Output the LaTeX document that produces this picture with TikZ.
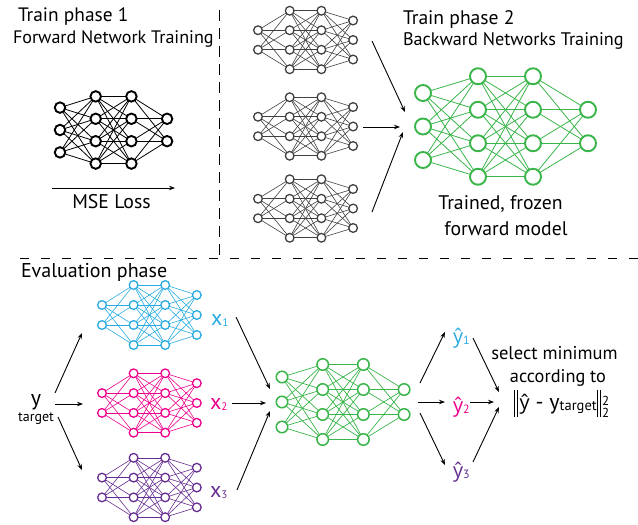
\documentclass[tikz,border=0pt]{standalone}
\usepackage{fontspec}
\setmainfont{PT Sans}
\newfontfamily\yfont{Open Sans}
\usetikzlibrary{arrows.meta}

\definecolor{ncyan}{HTML}{29ABE2}
\definecolor{nmag}{HTML}{EC008C}
\definecolor{npur}{HTML}{662D91}
\definecolor{ngreen}{HTML}{39B54A}
\definecolor{ngray}{HTML}{404040}

\newcommand\fsz[1]{\fontsize{#1}{#1}\selectfont}
\newcommand\yh{{\yfont\fsz{20}ŷ}}
\newcommand\nbar{\rule[-8pt]{0.7pt}{27pt}\hspace{1.8pt}\rule[-8pt]{0.7pt}{27pt}}

\tikzset{
  neu/.style={circle, draw, fill=white, inner sep=0pt, outer sep=0pt},
  fwdnode/.style={neu, draw=black, line width=1.9pt, minimum size=10.5pt},
  fwdedge/.style={draw=black, line width=0.8pt},
  bwdnode/.style={neu, draw=ngray, line width=1.3pt, minimum size=8.7pt},
  bwdedge/.style={draw=ngray, line width=0.6pt},
  gtnode/.style={neu, draw=ngreen, line width=1.9pt, minimum size=16pt},
  gtedge/.style={draw=ngreen, line width=0.8pt},
  gbnode/.style={neu, draw=ngreen, line width=1.5pt, minimum size=11.5pt},
  gbedge/.style={draw=ngreen, line width=0.7pt},
  cnode/.style={neu, draw=#1, line width=1.3pt, minimum size=8.7pt},
  cedge/.style={draw=#1, line width=0.6pt},
  txt/.style={inner sep=0pt, outer sep=0pt, anchor=base west},
  ctxt/.style={inner sep=0pt, outer sep=0pt, anchor=base},
  arr/.style={-{Stealth[length=6pt,width=4.5pt]}, line width=0.9pt},
  divider/.style={line width=1pt, dash pattern=on 9pt off 12pt},
  vdivider/.style={line width=1pt, dash pattern=on 11pt off 7pt},
}

% #1 prefix, #2 node style, #3 edge style, #4 x0, #5 yc, #6 dx, #7 dy, #8 n_in, #9 n_out
\newcommand\nnet[9]{%
  \foreach \l/\n in {1/#8,2/4,3/4,4/#9}{%
    \foreach \i in {1,...,\n}{%
      \node[#2] (#1-\l-\i) at ({#4+(\l-1)*#6},{#5+(\i-(\n+1)/2)*#7}) {};
    }%
  }%
  \foreach \l/\n/\m in {1/#8/4,2/4/4,3/4/#9}{%
    \pgfmathtruncatemacro\lp{\l+1}%
    \foreach \i in {1,...,\n}{%
      \foreach \j in {1,...,\m}{%
        \draw[#3] (#1-\l-\i) -- (#1-\lp-\j);
      }%
    }%
  }%
}

\begin{document}
\begin{tikzpicture}[x=1pt,y=-1pt]
\useasboundingbox (0,0) rectangle (638,525);

% dividers
\coordinate (vtop) at (219,10);
\coordinate (vbot) at (219,258);
\coordinate (hl) at (20,258);
\coordinate (hr) at (638,258);
\draw[vdivider] (vtop) -- (vbot);
\draw[divider] (hl) -- (hr);

% ---------- Train phase 1 ----------
\node[txt] (t1) at (18,21) {\fsz{19.4}Train phase 1};
\node[txt] (t1s) at (13,43) {\fsz{18.1}Forward Network Training};
\nnet{f}{fwdnode}{fwdedge}{60}{130}{35.7}{22.4}{3}{2}
\coordinate (mse1) at (52,188);
\coordinate (mse2) at (175,188);
\draw[arr] (mse1) -- (mse2);
\node[ctxt] (mse) at (111.5,208) {\fsz{19.8}MSE Loss};

% ---------- Train phase 2 ----------
\nnet{b1}{bwdnode}{bwdedge}{258}{40}{31.7}{19.5}{2}{3}
\nnet{b2}{bwdnode}{bwdedge}{258}{126.5}{31.7}{19.5}{2}{3}
\nnet{b3}{bwdnode}{bwdedge}{258}{208.5}{31.7}{19.5}{2}{3}
\node[txt] (t2) at (403,24) {\fsz{19.6}Train phase 2};
\node[txt] (t2s) at (403,45) {\fsz{18.2}Backward Networks Training};
\nnet{gt}{gtnode}{gtedge}{423}{126.5}{55}{33.5}{3}{2}
\coordinate (ba1) at (372,41);  \coordinate (bb1) at (405,112);
\coordinate (ba2) at (363,127); \coordinate (bb2) at (400,127);
\coordinate (ba3) at (372,212); \coordinate (bb3) at (403,132);
\draw[arr] (ba1) -- (bb1);
\draw[arr] (ba2) -- (bb2);
\draw[arr] (ba3) -- (bb3);
\node[ctxt] (tf1) at (500.5,209) {\fsz{19.7}Trained, frozen};
\node[ctxt] (tf2) at (506,235) {\fsz{19.7}forward model};

% ---------- Evaluation phase ----------
\node[txt] (ev) at (21,277) {\fsz{20}Evaluation phase};
\node[ctxt] (ysym) at (36,405) {\fsz{22}y};
\node[ctxt] (ytg) at (36,421) {\fsz{14}target};

\nnet{c}{cnode=ncyan}{cedge=ncyan}{102}{315}{31.6}{20}{2}{3}
\nnet{m}{cnode=nmag}{cedge=nmag}{102}{403}{31.6}{19.8}{2}{3}
\nnet{p}{cnode=npur}{cedge=npur}{102}{487.5}{31.6}{19.8}{2}{3}

\coordinate (ya1) at (55,393); \coordinate (yb1) at (82,333);
\coordinate (ya2) at (55,404); \coordinate (yb2) at (83,404);
\coordinate (ya3) at (58,417); \coordinate (yb3) at (82,470);
\draw[arr] (ya1) -- (yb1);
\draw[arr] (ya2) -- (yb2);
\draw[arr] (ya3) -- (yb3);

\node[txt, text=ncyan] (x1) at (211,325) {\fsz{22}x\raisebox{-1pt}{\fsz{11}1}};
\node[txt, text=nmag] (x2) at (210,409) {\fsz{22}x\raisebox{-1pt}{\fsz{11}2}};
\node[txt, text=npur] (x3) at (210,497) {\fsz{22}x\raisebox{-1pt}{\fsz{11}3}};

\nnet{g}{gbnode}{gbedge}{282}{402}{40.7}{25}{3}{2}

\coordinate (xa1) at (236,317); \coordinate (xb1) at (270,389);
\coordinate (xa2) at (232,403); \coordinate (xb2) at (266,403);
\coordinate (xa3) at (237,490); \coordinate (xb3) at (270,411);
\draw[arr] (xa1) -- (xb1);
\draw[arr] (xa2) -- (xb2);
\draw[arr] (xa3) -- (xb3);

\coordinate (oa1) at (420,383); \coordinate (ob1) at (445,332);
\coordinate (oa2) at (418,402); \coordinate (ob2) at (445,402);
\coordinate (oa3) at (420,413); \coordinate (ob3) at (445,465);
\draw[arr] (oa1) -- (ob1);
\draw[arr] (oa2) -- (ob2);
\draw[arr] (oa3) -- (ob3);

\node[txt, text=ncyan] (yh1) at (453,343) {\yh\raisebox{-1pt}{\fsz{12}1}};
\node[txt, text=nmag] (yh2) at (453,412) {\yh\raisebox{-1pt}{\fsz{12}2}};
\node[txt, text=npur] (yh3) at (453,477) {\yh\raisebox{-1pt}{\fsz{12}3}};

\coordinate (sa1) at (473,338); \coordinate (sb1) at (499,392);
\coordinate (sa2) at (470,402); \coordinate (sb2) at (494,402);
\coordinate (sa3) at (473,462); \coordinate (sb3) at (499,407);
\draw[arr] (sa1) -- (sb1);
\draw[arr] (sa2) -- (sb2);
\draw[arr] (sa3) -- (sb3);

\node[ctxt] (sel1) at (554.5,359) {\fsz{18.5}select minimum};
\node[ctxt] (sel2) at (558,382) {\fsz{18.3}according to};
\node[txt] (form) at (514,409) {\fsz{22}\nbar\hspace{2.5pt}\yh{} - y\raisebox{-1.5pt}{\fsz{14.5}target}\hspace{0.5pt}\nbar\hspace{1.5pt}\rlap{\raisebox{4pt}{\fsz{13}2}}\raisebox{-8pt}{\fsz{13}2}};
\end{tikzpicture}
\end{document}
